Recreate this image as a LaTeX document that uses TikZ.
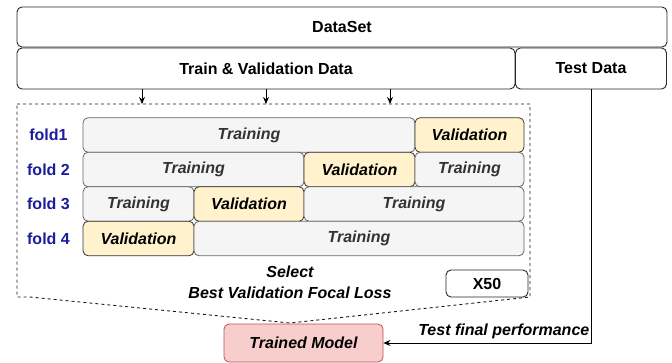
\documentclass[tikz,border=0pt]{standalone}
\usepackage{fontspec}
\setmainfont{Liberation Sans}
\usetikzlibrary{arrows.meta}
\definecolor{trainfill}{HTML}{F5F5F5}
\definecolor{trainline}{HTML}{666666}
\definecolor{valfill}{HTML}{FFF2CC}
\definecolor{modelfill}{HTML}{F8CECC}
\definecolor{modelline}{HTML}{B85450}
\definecolor{foldblue}{RGB}{28,28,160}
\tikzset{
	box/.style={draw=black!85, rounded corners=5pt, line width=0.9pt, font=\fontsize{16}{18}\selectfont\bfseries, inner sep=0pt},
	train/.style={draw=trainline, fill=trainfill, rounded corners=5pt, line width=0.8pt, minimum height=34.5pt, inner sep=0pt, text=black!80, font=\fontsize{16}{18}\selectfont\bfseries\itshape},
	valid/.style={train, draw=black!80, fill=valfill, text=black},
	foldlbl/.style={text=foldblue, font=\fontsize{16}{18}\selectfont\bfseries},
	arr/.style={-{Stealth[length=7pt,width=6pt]}, line width=0.9pt}
}
\begin{document}
\begin{tikzpicture}[x=1pt,y=-1pt]
		\useasboundingbox (0,0) rectangle (672,362);
		\node[box, minimum width=650pt, minimum height=40pt] (dataset) at (342,27) {DataSet};
		\node[box, minimum width=498pt, minimum height=41pt] (trainval) at (266,68.5) {Train \& Validation Data};
		\node[box, minimum width=151pt, minimum height=41pt] (test) at (591,68.5) {Test Data};
		% dashed frame
		\coordinate (f1) at (142,104);
		\coordinate (f2) at (266,104);
		\coordinate (f3) at (390,104);
		\draw[draw=black!90, dash pattern=on 3pt off 3pt, line width=0.9pt] (17,104) -- (530,104) -- (530,297) -- (290,323) -- (30,297) -- (17,297) -- cycle;
		\draw[arr] (trainval.south -| f1) -- (f1);
		\draw[arr] (trainval.south -| f2) -- (f2);
		\draw[arr] (trainval.south -| f3) -- (f3);
		% folds
		\node[foldlbl] (fold1) at (48.5,135) {fold1};
		\node[foldlbl] (fold2) at (48.5,169.5) {fold 2};
		\node[foldlbl] (fold3) at (48.5,204) {fold 3};
		\node[foldlbl] (fold4) at (48.5,238.5) {fold 4};
		\node[train, minimum width=332pt] (t11) at (249,135) {Training};
		\node[valid, minimum width=109pt] (v12) at (469.5,135) {Validation};
		\node[train, minimum width=221pt] (t21) at (193.5,169.5) {Training};
		\node[valid, minimum width=111pt] (v22) at (359.5,169.5) {Validation};
		\node[train, minimum width=109pt] (t23) at (469.5,169.5) {Training};
		\node[train, minimum width=111pt] (t31) at (138.5,204) {Training};
		\node[valid, minimum width=110pt] (v32) at (249,204) {Validation};
		\node[train, minimum width=220pt] (t33) at (414,204) {Training};
		\node[valid, minimum width=111pt] (v41) at (138.5,238.5) {Validation};
		\node[train, minimum width=330pt] (t42) at (359,238.5) {Training};
		\node[align=center, font=\fontsize{16}{21}\selectfont\bfseries\itshape] (select) at (290,282.5) {Select\\Best Validation Focal Loss};
		\node[box, minimum width=82pt, minimum height=27pt] (x50) at (487,283.5) {X50};
		\node[draw=modelline, fill=modelfill, rounded corners=5pt, line width=0.8pt, minimum width=159pt, minimum height=38pt, font=\fontsize{16}{18}\selectfont\bfseries\itshape] (model) at (303.5,343) {Trained Model};
		\draw[arr] (test.south) |- (model.east) node[pos=0.71, above=0pt, font=\fontsize{16}{18}\selectfont\bfseries\itshape] (perf) {Test final performance};
\end{tikzpicture}
\end{document}
